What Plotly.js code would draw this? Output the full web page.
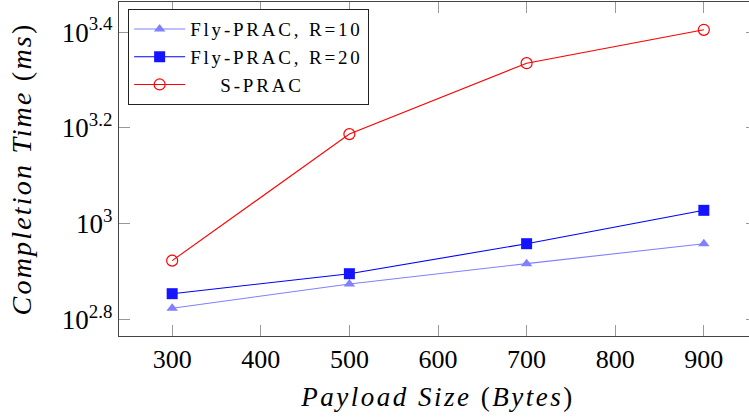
<!DOCTYPE html>
<html>
<head>
<meta charset="utf-8">
<script src="https://cdn.plot.ly/plotly-3.0.1.min.js"></script>
<style>
  html, body { margin: 0; padding: 0; overflow: hidden; background: #fff; }
  #chart { width: 760px; height: 417px; }
  /* wider, TeX-like letter spacing for titles and legend entries */
  .xtitle { letter-spacing: 2.5px; }
  .ytitle { letter-spacing: 2.2px; }
  .legendtext { letter-spacing: 2.8px; }
</style>
</head>
<body>
<div id="chart"></div>
<script>
// Payload sizes (bytes)
const payloadSizes = [300, 500, 700, 900];

// Completion times (ms)
const flyPracR10 = [666, 748, 825, 908];
const flyPracR20 = [714, 786, 908, 1066];
const sPrac = [837, 1538, 2163, 2539];

// Series names
const seriesNames = ['Fly-PRAC, R=10', 'Fly-PRAC, R=20', 'S-PRAC'];

// Axis ticks
const xTicks = [300, 400, 500, 600, 700, 800, 900];
const yTickExponents = [2.8, 3, 3.2, 3.4];

const serif = 'Liberation Serif, Times New Roman, serif';

const traces = [
  {
    x: payloadSizes, y: flyPracR10, name: seriesNames[0],
    mode: 'lines+markers', type: 'scatter',
    line: { color: '#8080ff', width: 1.1 },
    marker: { symbol: 'triangle-up', size: 10, color: '#8080ff', line: { width: 0 } }
  },
  {
    x: payloadSizes, y: flyPracR20, name: seriesNames[1],
    mode: 'lines+markers', type: 'scatter',
    line: { color: '#0000ff', width: 1.1 },
    marker: { symbol: 'square', size: 11, color: '#1414ff', line: { width: 0 } }
  },
  {
    // centred in the legend column
    x: payloadSizes, y: sPrac, name: '\u00a0\u00a0\u00a0\u00a0' + seriesNames[2],
    mode: 'lines+markers', type: 'scatter',
    line: { color: '#ff0000', width: 1.1 },
    marker: { symbol: 'circle-open', size: 11, color: '#ff0000', line: { width: 1.2, color: '#ff0000' } }
  }
];

// Log-axis padding: 10% of the data span on each side
const allY = flyPracR10.concat(flyPracR20, sPrac).map(v => Math.log10(v));
const yMin = Math.min(...allY), yMax = Math.max(...allY);
const yPad = (yMax - yMin) * 0.1;
const xPad = (Math.max(...payloadSizes) - Math.min(...payloadSizes)) * 0.1;

const layout = {
  width: 760, height: 417,
  margin: { l: 119, r: 3, t: 2, b: 81 },
  paper_bgcolor: '#fff', plot_bgcolor: '#fff',
  font: { family: serif, color: '#000' },
  showlegend: true,
  xaxis: {
    range: [Math.min(...payloadSizes) - xPad, Math.max(...payloadSizes) + xPad],
    tickvals: xTicks,
    ticktext: xTicks.map(String),
    ticks: 'inside', ticklen: 11, tickwidth: 1, tickcolor: '#999',
    showline: true, linecolor: '#444', linewidth: 1.2, mirror: 'ticks',
    showgrid: false, zeroline: false,
    tickfont: { family: serif, size: 26, color: '#000' },
    title: { text: '<i>Payload Size</i> (<i>Bytes</i>)', font: { family: serif, size: 27, color: '#000' }, standoff: 13 }
  },
  yaxis: {
    type: 'log',
    range: [yMin - yPad, yMax + yPad],
    tickvals: yTickExponents.map(e => Math.pow(10, e)),
    ticktext: yTickExponents.map(e => '10<sup>' + e + '</sup>'),
    ticks: 'inside', ticklen: 11, tickwidth: 1, tickcolor: '#999',
    showline: true, linecolor: '#444', linewidth: 1.2, mirror: 'ticks',
    showgrid: false, zeroline: false,
    tickfont: { family: serif, size: 27, color: '#000' },
    title: { text: '<i>Completion Time</i> (<i>ms</i>)', font: { family: serif, size: 28, color: '#000' }, standoff: 22 }
  },
  legend: {
    x: 0.014, y: 0.979, xanchor: 'left', yanchor: 'top',
    bgcolor: '#fff', bordercolor: '#222', borderwidth: 1.2,
    itemwidth: 51,
    font: { family: serif, size: 19, color: '#000' }
  }
};

Plotly.newPlot('chart', traces, layout, { staticPlot: true, displayModeBar: false });
</script>
</body>
</html>
